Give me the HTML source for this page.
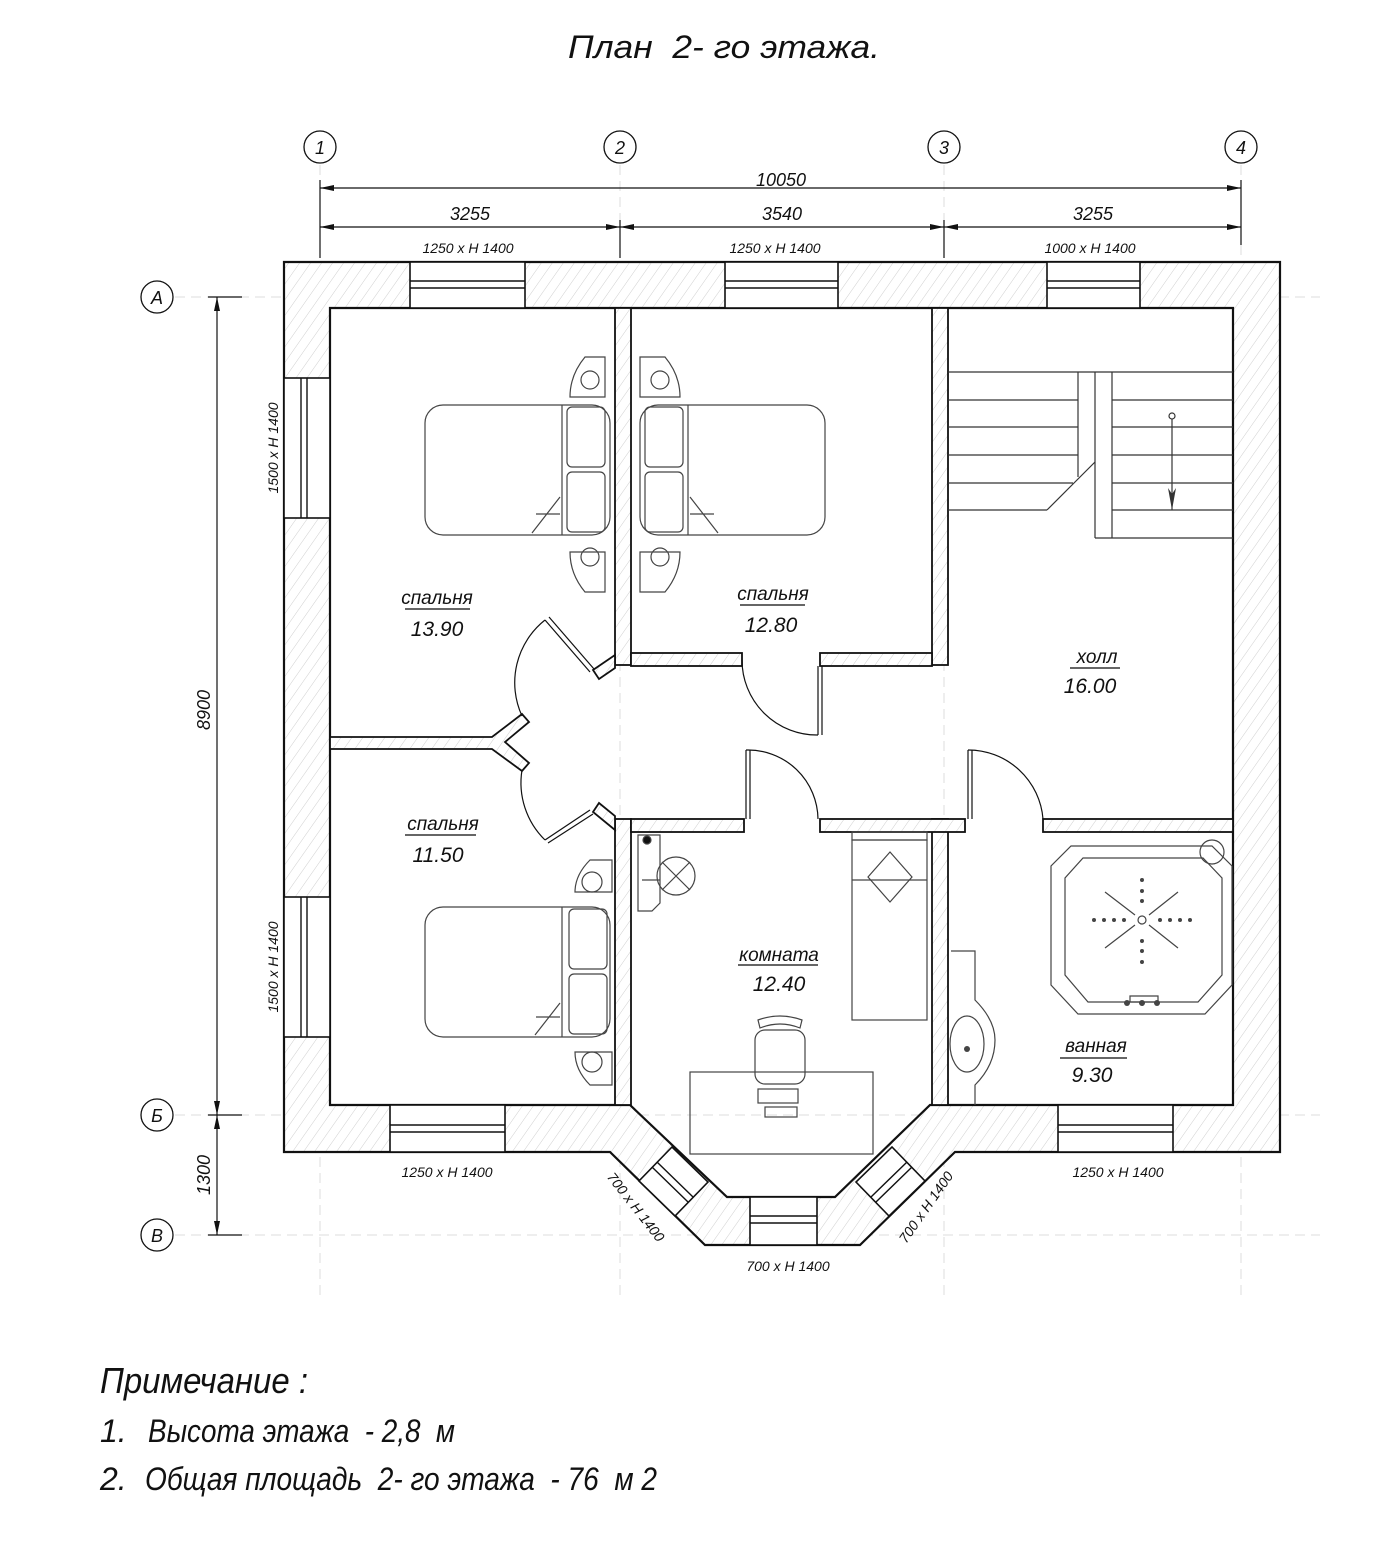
<!DOCTYPE html>
<html><head><meta charset="utf-8"><style>
html,body{margin:0;padding:0;background:#fff}
svg{display:block}
text{font-family:"Liberation Sans","DejaVu Sans",sans-serif;font-style:italic;fill:#111;white-space:pre}
</style></head><body>
<svg width="1377" height="1551" viewBox="0 0 1377 1551" xmlns="http://www.w3.org/2000/svg">
<defs>
<pattern id="h" width="9" height="9" patternUnits="userSpaceOnUse" patternTransform="rotate(35)">
<rect width="9" height="9" fill="#fff"/><line x1="0" y1="0" x2="0" y2="9" stroke="#cfcfcf" stroke-width="1"/>
</pattern>
</defs>
<text x="568" y="58" font-size="32" textLength="312" lengthAdjust="spacingAndGlyphs">План  2- го этажа.</text>

<g stroke="#ddd" stroke-dasharray="10 6" stroke-width="1">
<line x1="320" y1="165" x2="320" y2="1300"/><line x1="620" y1="165" x2="620" y2="1300"/>
<line x1="944" y1="165" x2="944" y2="1300"/><line x1="1241" y1="165" x2="1241" y2="1300"/>
<line x1="175" y1="297" x2="1320" y2="297"/><line x1="175" y1="1115" x2="1320" y2="1115"/>
<line x1="175" y1="1235" x2="1320" y2="1235"/>
</g>
<g fill="#fff" stroke="#111" stroke-width="1.3">
<circle cx="320" cy="147" r="16"/><circle cx="620" cy="147" r="16"/><circle cx="944" cy="147" r="16"/><circle cx="1241" cy="147" r="16"/>
<circle cx="157" cy="297" r="16"/><circle cx="157" cy="1115" r="16"/><circle cx="157" cy="1235" r="16"/>
</g>
<g font-size="18" text-anchor="middle" style="font-style:normal">
<text x="320" y="154">1</text><text x="620" y="154">2</text><text x="944" y="154">3</text><text x="1241" y="154">4</text>
<text x="157" y="304">А</text><text x="157" y="1122">Б</text><text x="157" y="1242">В</text>
</g>
<g stroke="#111" stroke-width="1.2" fill="none">
<line x1="320" y1="188" x2="1241" y2="188"/>
<line x1="320" y1="227" x2="1241" y2="227"/>
<line x1="320" y1="180" x2="320" y2="258"/><line x1="620" y1="220" x2="620" y2="258"/>
<line x1="944" y1="220" x2="944" y2="258"/><line x1="1241" y1="180" x2="1241" y2="245"/>
<line x1="217" y1="297" x2="217" y2="1235"/>
<line x1="208" y1="297" x2="242" y2="297"/><line x1="208" y1="1115" x2="242" y2="1115"/><line x1="208" y1="1235" x2="242" y2="1235"/>
</g>
<g fill="#111">
<path d="M320 188l14-3v6z"/><path d="M1241 188l-14-3v6z"/>
<path d="M320 227l14-3v6z"/><path d="M620 227l-14-3v6z"/><path d="M620 227l14-3v6z"/>
<path d="M944 227l-14-3v6z"/><path d="M944 227l14-3v6z"/><path d="M1241 227l-14-3v6z"/>
<path d="M217 297l-3 14h6z"/><path d="M217 1115l-3-14h6z"/><path d="M217 1115l-3 14h6z"/><path d="M217 1235l-3-14h6z"/>
</g>
<g font-size="18" text-anchor="middle">
<text x="781" y="186">10050</text>
<text x="470" y="220">3255</text><text x="782" y="220">3540</text><text x="1093" y="220">3255</text>
<text transform="translate(210 710) rotate(-90)">8900</text>
<text transform="translate(210 1175) rotate(-90)">1300</text>
</g>
<g font-size="14" text-anchor="middle">
<text x="468" y="253">1250 x H 1400</text><text x="775" y="253">1250 x H 1400</text><text x="1090" y="253">1000 x H 1400</text>
<text transform="translate(278 448) rotate(-90)">1500 x H 1400</text>
<text transform="translate(278 967) rotate(-90)">1500 x H 1400</text>
<text x="447" y="1177">1250 x H 1400</text><text x="1118" y="1177">1250 x H 1400</text>
<text x="788" y="1271">700 x H 1400</text>
<text transform="translate(632 1210) rotate(52)">700 x H 1400</text>
<text transform="translate(930 1210) rotate(-55)">700 x H 1400</text>
</g>

<path fill="url(#h)" fill-rule="evenodd" stroke="#111" stroke-width="2.2"
d="M284 262H1280V1152H955L860 1245H705L610 1152H284Z M330 308H1233V1105H930L835 1197H727L630 1105H330Z"/>
<g fill="#fff" stroke="#111" stroke-width="1.6">
<rect x="410" y="262" width="115" height="46"/><rect x="725" y="262" width="113" height="46"/><rect x="1047" y="262" width="93" height="46"/>
<rect x="284" y="378" width="46" height="140"/><rect x="284" y="897" width="46" height="140"/>
<rect x="390" y="1105" width="115" height="47"/><rect x="1058" y="1105" width="115" height="47"/>
<rect x="750" y="1197" width="67" height="48"/>
<polygon points="639,1181 675,1216 708,1182 672,1147"/>
<polygon points="925,1181 889,1216 856,1182 892,1147"/>
</g>
<g stroke="#111" stroke-width="1.4">
<line x1="410" y1="281" x2="525" y2="281"/><line x1="410" y1="288" x2="525" y2="288"/>
<line x1="725" y1="281" x2="838" y2="281"/><line x1="725" y1="288" x2="838" y2="288"/>
<line x1="1047" y1="281" x2="1140" y2="281"/><line x1="1047" y1="288" x2="1140" y2="288"/>
<line x1="301" y1="378" x2="301" y2="518"/><line x1="307" y1="378" x2="307" y2="518"/>
<line x1="301" y1="897" x2="301" y2="1037"/><line x1="307" y1="897" x2="307" y2="1037"/>
<line x1="390" y1="1125" x2="505" y2="1125"/><line x1="390" y1="1132" x2="505" y2="1132"/>
<line x1="1058" y1="1125" x2="1173" y2="1125"/><line x1="1058" y1="1132" x2="1173" y2="1132"/>
<line x1="750" y1="1216" x2="817" y2="1216"/><line x1="750" y1="1223" x2="817" y2="1223"/>
<line x1="652" y1="1167" x2="688" y2="1202"/><line x1="657" y1="1162" x2="693" y2="1197"/>
<line x1="912" y1="1167" x2="876" y2="1202"/><line x1="907" y1="1162" x2="871" y2="1197"/>
</g>

<g fill="url(#h)" stroke="#111" stroke-width="1.8">
<rect x="615" y="308" width="16" height="357"/>
<rect x="932" y="308" width="16" height="357"/>
<rect x="631" y="653" width="111" height="13"/>
<rect x="820" y="653" width="112" height="13"/>
<rect x="615" y="819" width="16" height="286"/>
<rect x="932" y="819" width="16" height="286"/>
<rect x="631" y="819" width="113" height="13"/>
<rect x="820" y="819" width="145" height="13"/>
<rect x="1043" y="819" width="190" height="13"/>
<path d="M330 737H492L522 714L529 722L505 742L529 763L522 771L492 749H330Z"/>
<path d="M615 655L593 670L599 679L615 668Z"/>
<path d="M615 830L593 812L599 803L615 816Z"/>
</g>
<g fill="none" stroke="#111" stroke-width="1.2">
<path d="M742 660A75 75 0 0 0 818 735"/><line x1="818" y1="666" x2="818" y2="735"/><line x1="822" y1="666" x2="822" y2="735"/>
<path d="M746 750A70 70 0 0 1 818 819"/><line x1="746" y1="750" x2="746" y2="819"/><line x1="750" y1="750" x2="750" y2="819"/>
<path d="M968 750A75 75 0 0 1 1043 819"/><line x1="968" y1="750" x2="968" y2="819"/><line x1="972" y1="750" x2="972" y2="819"/>
<path d="M545 620A80 80 0 0 0 522 716"/><line x1="590" y1="672" x2="545" y2="620"/><line x1="594" y1="669" x2="549" y2="617"/>
<path d="M522 770A80 80 0 0 0 545 840"/><line x1="590" y1="810" x2="545" y2="840"/><line x1="593" y1="814" x2="548" y2="843"/>
</g>

<g stroke="#333" stroke-width="1.2" fill="none">
<line x1="948" y1="372" x2="1233" y2="372"/>
<g><line x1="948" y1="400" x2="1078" y2="400"/><line x1="948" y1="427" x2="1078" y2="427"/><line x1="948" y1="455" x2="1078" y2="455"/><line x1="948" y1="483" x2="1073" y2="483"/><line x1="948" y1="510" x2="1047" y2="510"/></g>
<g><line x1="1112" y1="400" x2="1233" y2="400"/><line x1="1112" y1="427" x2="1233" y2="427"/><line x1="1112" y1="455" x2="1233" y2="455"/><line x1="1112" y1="483" x2="1233" y2="483"/><line x1="1112" y1="510" x2="1233" y2="510"/><line x1="1095" y1="538" x2="1233" y2="538"/></g>
<line x1="1078" y1="372" x2="1078" y2="477"/><line x1="1095" y1="372" x2="1095" y2="538"/><line x1="1112" y1="372" x2="1112" y2="538"/>
<line x1="1047" y1="510" x2="1095" y2="462"/>
<line x1="1172" y1="416" x2="1172" y2="510"/><circle cx="1172" cy="416" r="3" fill="#fff"/>
</g>
<path d="M1172 510l-4-22 4 6 4-6z" fill="#333"/>

<g fill="none" stroke="#444" stroke-width="1.2">
<rect x="425" y="405" width="185" height="130" rx="18"/>
<rect x="567" y="407" width="38" height="60" rx="5"/><rect x="567" y="472" width="38" height="60" rx="5"/>
<path d="M562 405V535"/><path d="M560 497L532 533M536 514H560"/>
<path d="M605 357H585Q570 375 570 397H605Z"/><circle cx="590" cy="380" r="9"/>
<path d="M605 592H585Q570 574 570 552H605Z"/><circle cx="590" cy="557" r="9"/>
<rect x="640" y="405" width="185" height="130" rx="18"/>
<rect x="645" y="407" width="38" height="60" rx="5"/><rect x="645" y="472" width="38" height="60" rx="5"/>
<path d="M688 405V535"/><path d="M690 497L718 533M714 514H690"/>
<path d="M640 357H665Q680 375 680 397H640Z"/><circle cx="660" cy="380" r="9"/>
<path d="M640 592H665Q680 574 680 552H640Z"/><circle cx="660" cy="557" r="9"/>
<rect x="425" y="907" width="185" height="130" rx="18"/>
<rect x="569" y="909" width="38" height="60" rx="5"/><rect x="569" y="974" width="38" height="60" rx="5"/>
<path d="M562 907V1037"/><path d="M560 1003L535 1035M536 1017H560"/>
<path d="M612 860H590Q575 875 575 892H612Z"/><circle cx="592" cy="882" r="10"/>
<path d="M612 1085H590Q575 1070 575 1052H612Z"/><circle cx="592" cy="1062" r="10"/>
<path d="M638 835H660V903L652 911H638Z"/><circle cx="676" cy="876" r="19"/><path d="M662 862L690 890M690 862L662 890"/>
<line x1="642" y1="880" x2="660" y2="880"/><circle cx="647" cy="840" r="4" fill="#111"/>
<rect x="852" y="832" width="75" height="8"/>
<rect x="852" y="840" width="75" height="180"/><line x1="852" y1="880" x2="927" y2="880"/>
<path d="M890 852L912 877L890 902L868 877Z"/>
<path d="M758 1020Q780 1012 802 1020L800 1028Q780 1020 760 1028Z"/>
<rect x="755" y="1030" width="50" height="54" rx="10"/>
<rect x="690" y="1072" width="183" height="82"/>
<rect x="758" y="1089" width="40" height="14"/><rect x="765" y="1107" width="32" height="10"/>
<path d="M1071 846H1212L1232 866V985L1205 1014H1078L1051 985V866Z"/>
<path d="M1083 858H1203L1222 878V975L1198 1002H1088L1065 975V878Z"/>
<circle cx="1212" cy="852" r="12"/>
<circle cx="1142" cy="920" r="4"/>
<path d="M1105 892L1135 915M1178 892L1149 915M1105 948L1135 925M1178 948L1149 925"/>
<path d="M1130 996H1158V1002H1130Z"/>
<path d="M951 951H975V1000Q995 1020 995 1040Q995 1065 975 1085V1105"/>
<ellipse cx="967" cy="1044" rx="17" ry="28"/>
</g>
<g fill="#444">
<circle cx="1142" cy="880" r="2"/><circle cx="1142" cy="891" r="2"/><circle cx="1142" cy="901" r="2"/>
<circle cx="1142" cy="941" r="2"/><circle cx="1142" cy="951" r="2"/><circle cx="1142" cy="962" r="2"/>
<circle cx="1094" cy="920" r="2"/><circle cx="1104" cy="920" r="2"/><circle cx="1114" cy="920" r="2"/><circle cx="1124" cy="920" r="2"/>
<circle cx="1160" cy="920" r="2"/><circle cx="1170" cy="920" r="2"/><circle cx="1180" cy="920" r="2"/><circle cx="1190" cy="920" r="2"/>
<circle cx="1127" cy="1003" r="3"/><circle cx="1142" cy="1003" r="3"/><circle cx="1157" cy="1003" r="3"/>
<circle cx="967" cy="1049" r="3"/>
</g>

<g font-size="19" text-anchor="middle">
<text x="437" y="604">спальня</text><text x="437" y="636" font-size="21">13.90</text>
<text x="773" y="600">спальня</text><text x="771" y="632" font-size="21">12.80</text>
<text x="1097" y="663">холл</text><text x="1090" y="693" font-size="21">16.00</text>
<text x="443" y="830">спальня</text><text x="438" y="862" font-size="21">11.50</text>
<text x="779" y="961">комната</text><text x="779" y="991" font-size="21">12.40</text>
<text x="1096" y="1052">ванная</text><text x="1092" y="1082" font-size="21">9.30</text>
</g>
<g stroke="#333" stroke-width="1.4">
<line x1="405" y1="609" x2="470" y2="609"/><line x1="740" y1="605" x2="805" y2="605"/>
<line x1="1070" y1="668" x2="1120" y2="668"/><line x1="405" y1="835" x2="476" y2="835"/>
<line x1="738" y1="965" x2="818" y2="965"/><line x1="1060" y1="1058" x2="1127" y2="1058"/>
</g>

<text x="100" y="1393" font-size="36" textLength="208" lengthAdjust="spacingAndGlyphs">Примечание :</text>
<text x="100" y="1442" font-size="32">1.</text>
<text x="148" y="1442" font-size="32" textLength="307" lengthAdjust="spacingAndGlyphs">Высота этажа  - 2,8  м</text>
<text x="100" y="1490" font-size="32">2.</text>
<text x="145" y="1490" font-size="32" textLength="512" lengthAdjust="spacingAndGlyphs">Общая площадь  2- го этажа  - 76  м 2</text>
</svg>
</body></html>
